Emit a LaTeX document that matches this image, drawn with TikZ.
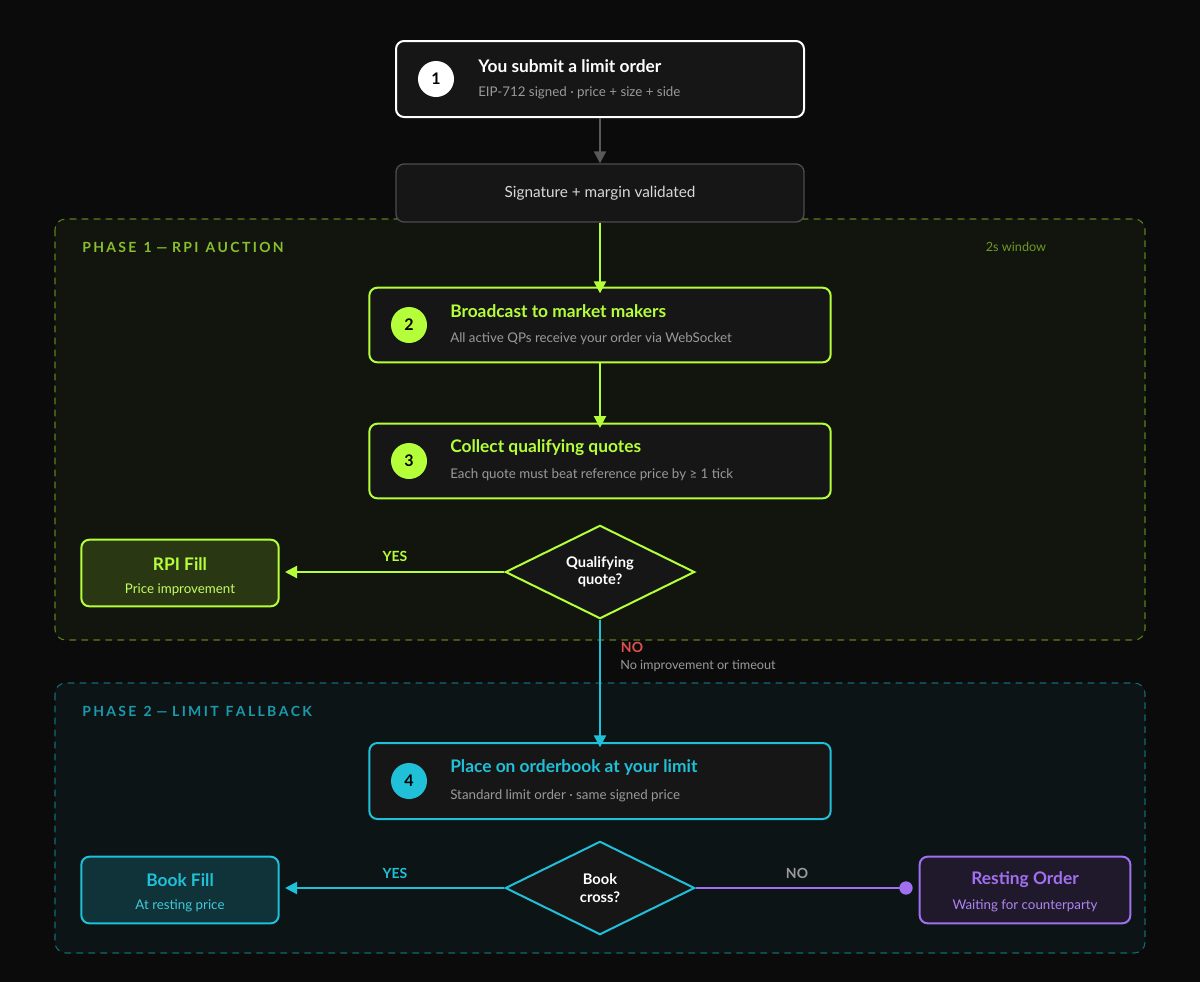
\documentclass[tikz,border=0pt]{standalone}
\usepackage{fontspec}
\setmainfont{Lato}
\usetikzlibrary{shapes.geometric,arrows.meta}
\definecolor{bg}{HTML}{0B0B0B}
\definecolor{boxf}{HTML}{161616}
\definecolor{lime}{HTML}{B5FF3A}
\definecolor{cyanc}{HTML}{1FC0D8}
\definecolor{purp}{HTML}{A070F0}
\definecolor{graytxt}{HTML}{9A9A9A}
\definecolor{redc}{HTML}{E05050}
\tikzset{
  px/.style={x=0.75pt,y=-0.75pt},
  box/.style={draw,line width=1.5pt,rounded corners=6pt,fill=boxf,inner sep=0pt},
  num/.style={circle,minimum size=27pt,inner sep=0pt,font=\bfseries\fontsize{12}{12}\selectfont,text=black},
  ttl/.style={anchor=west,inner sep=0pt,font=\bfseries\fontsize{13}{13}\selectfont},
  sub/.style={anchor=west,inner sep=0pt,text=graytxt,font=\fontsize{10}{10}\selectfont},
  dia/.style={diamond,draw,line width=1.5pt,fill=boxf,aspect=2.02,minimum width=142pt,minimum height=70pt,inner sep=0pt,text=white,align=center,font=\bfseries\fontsize{11}{13}\selectfont},
  phase/.style={draw,dashed,line width=0.8pt,rounded corners=8pt,dash pattern=on 5pt off 4pt},
  plbl/.style={anchor=west,inner sep=0pt,font=\bfseries\fontsize{10.5}{10.5}\selectfont},
  arr/.style={line width=1.6pt,-{Triangle[length=9pt,width=9pt]}},
  lbl/.style={inner sep=0pt,font=\bfseries\fontsize{10.5}{10.5}\selectfont},
}
\begin{document}
\begin{tikzpicture}[px]
\fill[bg] (0,0) rectangle (1200,982);
\useasboundingbox (0,0) rectangle (1200,982);
% phases
\draw[phase,draw=lime!50!black,fill=lime!4!bg] (55,219) rectangle (1145,640);
\draw[phase,draw=cyanc!55!black,fill=cyanc!5!bg] (55,683) rectangle (1145,953);
\node[plbl,text=lime!75!black] (p1) at (82,247) {P\,H\,A\,S\,E\,\,\,1\,\,—\,\,R\,P\,I\,\,\,A\,U\,C\,T\,I\,O\,N};
\node[anchor=center,inner sep=0pt,text=lime!60!black,font=\fontsize{9.5}{9.5}\selectfont] (win) at (1016,247) {2s window};
\node[plbl,text=cyanc!80!black] (p2) at (82,711) {P\,H\,A\,S\,E\,\,\,2\,\,—\,\,L\,I\,M\,I\,T\,\,\,F\,A\,L\,L\,B\,A\,C\,K};
% box1
\node[box,draw=white,minimum width=306pt,minimum height=57pt] (b1) at (600,79) {};
\node[num,fill=white] (n1) at (436,79) {1};
\node[ttl,text=white] (t1) at (478,66) {You submit a limit order};
\node[sub] (s1) at (478,93) {EIP-712 signed · price + size + side};
% validate
\node[box,draw=gray!60!black,line width=1pt,minimum width=306pt,minimum height=43.5pt,text=white!85!black,font=\fontsize{11.5}{11.5}\selectfont] (bv) at (600,193) {Signature + margin validated};
% box2
\node[box,draw=lime,minimum width=346pt,minimum height=56pt] (b2) at (600,325) {};
\node[num,fill=lime] (n2) at (409,325) {2};
\node[ttl,text=lime] (t2) at (450,311) {Broadcast to market makers};
\node[sub] (s2) at (450,339) {All active QPs receive your order via WebSocket};
% box3
\node[box,draw=lime,minimum width=346pt,minimum height=56pt] (b3) at (600,461) {};
\node[num,fill=lime] (n3) at (409,461) {3};
\node[ttl,text=lime] (t3) at (450,448) {Collect qualifying quotes};
\node[sub] (s3) at (450,475) {Each quote must beat reference price by ≥ 1 tick};
% diamond1
\node[dia,draw=lime] (d1) at (600,572) {Qualifying\\quote?};
% RPI fill
\node[box,draw=lime,fill=lime!18!bg,minimum width=148pt,minimum height=50pt] (rf) at (180,573) {};
\node[inner sep=0pt,text=lime,font=\bfseries\fontsize{13}{13}\selectfont] (rft) at (180,564) {RPI Fill};
\node[inner sep=0pt,text=lime!80!white,font=\fontsize{10}{10}\selectfont] (rfs) at (180,590) {Price improvement};
% box4
\node[box,draw=cyanc,minimum width=346pt,minimum height=57pt] (b4) at (600,781) {};
\node[num,fill=cyanc] (n4) at (409,781) {4};
\node[ttl,text=cyanc] (t4) at (450,768) {Place on orderbook at your limit};
\node[sub] (s4) at (450,796) {Standard limit order · same signed price};
% diamond2
\node[dia,draw=cyanc] (d2) at (600,888) {Book\\cross?};
% book fill
\node[box,draw=cyanc,fill=cyanc!22!bg,minimum width=148pt,minimum height=50pt] (bf) at (180,890) {};
\node[inner sep=0pt,text=cyanc,font=\bfseries\fontsize{13}{13}\selectfont] (bft) at (180,880) {Book Fill};
\node[inner sep=0pt,text=cyanc!85!white,font=\fontsize{10}{10}\selectfont] (bfs) at (180,906) {At resting price};
% resting
\node[box,draw=purp,fill=purp!14!bg,minimum width=158pt,minimum height=50pt] (ro) at (1025,890) {};
\node[inner sep=0pt,text=purp,font=\bfseries\fontsize{13}{13}\selectfont] (rot) at (1025,880) {Resting Order};
\node[inner sep=0pt,text=purp!85!white,font=\fontsize{10}{10}\selectfont] (ros) at (1025,906) {Waiting for counterparty};
\coordinate (dot) at (906,888);
% connectors
\draw[arr,draw=gray!70!black,fill=gray!70!black] (b1.south) -- (bv.north);
\draw[arr,draw=lime,fill=lime] (bv.south) -- ([yshift=-5pt]b2.north);
\draw[arr,draw=lime,fill=lime] (b2.south) -- ([yshift=-4pt]b3.north);
\draw[arr,draw=lime,fill=lime] (d1.west) -- ([xshift=4pt]rf.east|-d1.west);
\draw[arr,draw=cyanc,fill=cyanc] (d1.south) -- ([yshift=-4pt]b4.north);
\draw[arr,draw=cyanc,fill=cyanc] (d2.west) -- ([xshift=4pt]bf.east|-d2.west);
\draw[line width=1.6pt,draw=purp] (d2.east) -- (dot);
\fill[purp] (dot) circle (5pt);
\node[lbl,text=lime] (y1) at (395,556) {YES};
\node[lbl,text=cyanc] (y2) at (395,873) {YES};
\node[lbl,text=redc] (no1) at (632,647) {NO};
\node[anchor=west,inner sep=0pt,text=graytxt,font=\fontsize{9.5}{9.5}\selectfont] (ni) at (620,666) {No improvement or timeout};
\node[lbl,text=graytxt] (no2) at (797,873) {NO};
\end{tikzpicture}
\end{document}
